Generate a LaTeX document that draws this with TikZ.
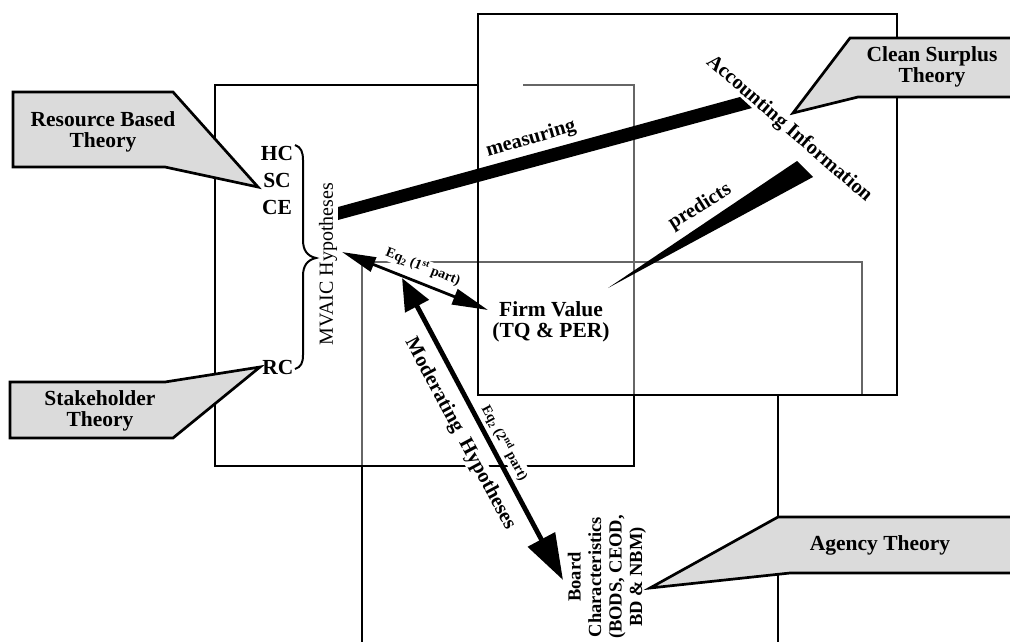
\documentclass[tikz,border=0pt]{standalone}
\usepackage{fontspec}
\setmainfont{Liberation Serif}
\usetikzlibrary{arrows.meta}
\begin{document}
\begin{tikzpicture}[x=1pt,y=-1pt,
  thickline/.style={line width=2.7pt, line join=miter},
  thinline/.style={line width=1.2pt, draw=black!60},
  callout/.style={draw=black, line width=2.7pt, fill=black!14, line join=miter},
  big/.style={font=\bfseries\fontsize{21.5}{21}\selectfont, align=center, inner sep=0pt},
  mid/.style={font=\bfseries\fontsize{20.5}{21}\selectfont, inner sep=1pt},
  small/.style={font=\bfseries\fontsize{14}{14}\selectfont, inner sep=1pt, fill=white},
  bar/.style={fill=black}]
\useasboundingbox (0,0) rectangle (1010,641);
\clip (0,0) rectangle (1010,641);

% thin (overlap) lines
\draw[thinline] (523,85) -- (634,85) -- (634,395);
\draw[thinline] (362,466) -- (362,262) -- (862,262) -- (862,395);
% thick boxes
\draw[thickline] (478,85) -- (215,85) -- (215,466) -- (634,466) -- (634,395);
\draw[thickline] (478,14) rectangle (897,395);
\draw[thickline] (362,466) -- (362,650);
\draw[thickline] (778,395) -- (778,650);

% callouts
\draw[callout] (13,92) -- (173,92) -- (258,187) -- (165,167) -- (13,167) -- cycle;
\node[big] (rbt) at (103,132) {Resource Based\\Theory};
\draw[callout] (10,382) -- (165,382) -- (260,367) -- (173,438) -- (10,438) -- cycle;
\node[big] (sht) at (100,411) {Stakeholder\\Theory};
\draw[callout] (850,38) -- (1020,38) -- (1020,97) -- (858,97) -- (793,113) -- cycle;
\node[big] (cst) at (932,67) {Clean Surplus\\Theory};
\draw[callout] (778,517) -- (1020,517) -- (1020,573) -- (790,573) -- (650,588) -- cycle;
\node[big] (agt) at (880,545) {Agency Theory};

% left labels
\node[big] (hc) at (277,153) {HC};
\node[big] (sc) at (277,180) {SC};
\node[big] (ce) at (277,207) {CE};
\node[big] (rc) at (278,367) {RC};
\draw[line width=2pt] (295,145) .. controls (301,147) and (303,152) .. (303,160) -- (303,240)
  .. controls (303,250) and (307,256) .. (316,258)
  .. controls (307,260) and (303,266) .. (303,276) -- (303,355)
  .. controls (303,363) and (301,367) .. (295,369);
\node[font=\fontsize{20}{20}\selectfont, rotate=90, inner sep=0pt] (mv) at (328,264) {MVAIC Hypotheses};

% accounting information
\node[mid, rotate=-41] (ai) at (789,129) {Accounting Information};
\coordinate (m1) at (338,207); \coordinate (m2) at (740,97);
\coordinate (m3) at (752,108); \coordinate (m4) at (338,220);
\fill[bar] (m1) -- (m2) -- (m3) -- (m4) -- cycle;
\node[mid, rotate=16] (meas) at (531,139) {measuring};
\coordinate (p1) at (608,288); \coordinate (p2) at (797,161); \coordinate (p3) at (813,177);
\fill[bar] (p1) -- (p2) -- (p3) -- cycle;
\node[mid, rotate=32] (pred) at (700,207) {predicts};

% firm value
\node[big] (fv) at (551,322) {Firm Value\\(TQ \& PER)};

% board characteristics
\node[font=\bfseries\fontsize{18.5}{20.5}\selectfont, align=center, rotate=90, inner sep=0pt] (bc) at (607,577)
  {Board\\Characteristics\\(BODS, CEOD,\\BD \& NBM)};

% labels on arrows
\node[small, rotate=-21.7] (eq1) at (423,267) {Eq\textsubscript{2} (1\textsuperscript{st} part)};
\node[small, rotate=-61.8] (eq2) at (505,443) {Eq\textsubscript{2} (2\textsuperscript{nd} part)};
\node[mid, rotate=-61.8, fill=white, inner sep=1pt] (modh) at (460,434) {Moderating\ \ Hypotheses};

% arrows
\coordinate (mvtip) at (342,252);
\coordinate (fvtip) at (488,310);
\coordinate (modtop) at (402,278);
\coordinate (bctip) at (563,580);
\draw[line width=2.8pt, {Triangle[length=34pt,width=15pt]}-{Triangle[length=36pt,width=16pt]}] (mvtip) -- (fvtip);
\draw[line width=4.8pt, {Triangle[length=32pt,width=26pt]}-{Triangle[length=46pt,width=30pt]}] (modtop) -- (bctip);
\end{tikzpicture}
\end{document}
